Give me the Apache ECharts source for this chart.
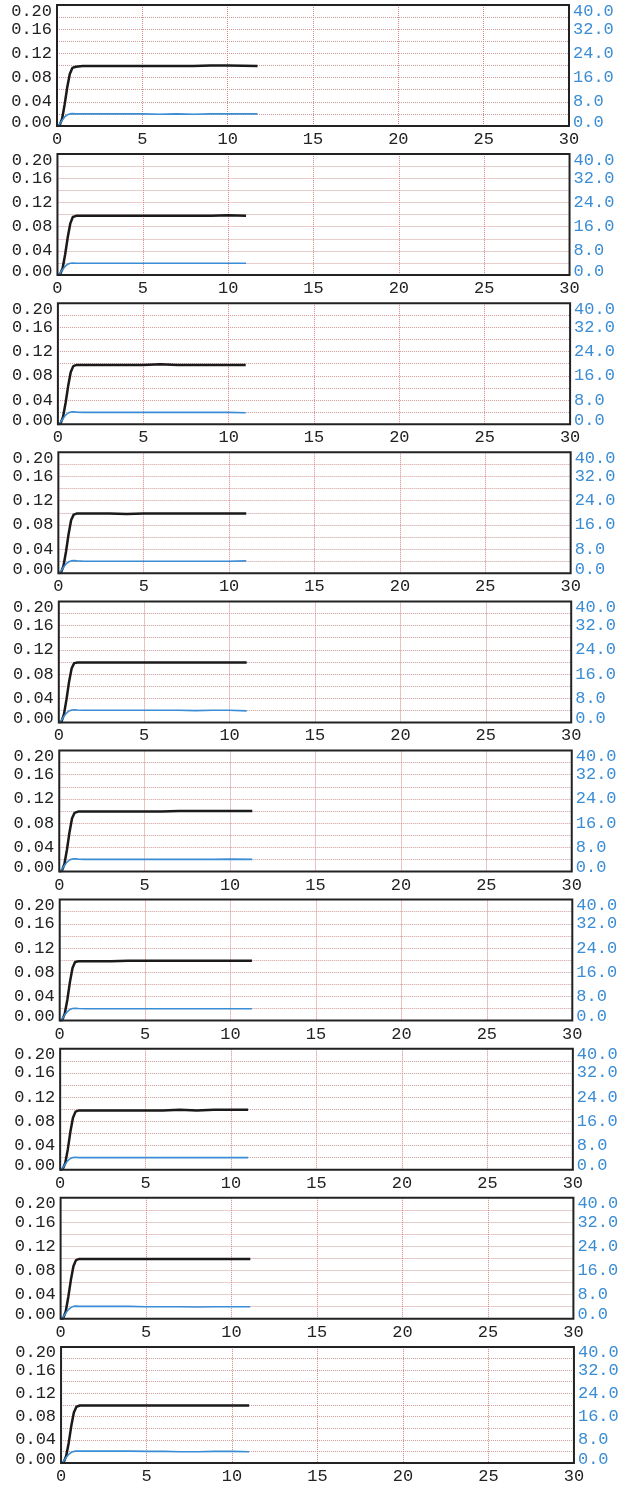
<!DOCTYPE html>
<html>
<head>
<meta charset="utf-8">
<script src="https://cdn.jsdelivr.net/npm/echarts@6/dist/echarts.min.js"></script>
<style>
  html, body { margin: 0; padding: 0; background: #fff; }
  #chart { width: 629px; height: 1485px; }
</style>
</head>
<body>
<div id="chart"></div>
<script>
// sample times (s) shared by all panels; each panel adds its own end time
var timePts = [0, 0.15, 0.3, 0.45, 0.6, 0.75, 0.9, 1.1, 1.5, 2, 3, 4, 5, 6, 7, 8, 9, 10];
var endTimes = [11.75, 11.05, 11.0, 11.0, 11.0, 11.3, 11.25, 11.0, 11.1, 11.0];

// black curve (left axis)
var blackVals = [
  [0, 0.001, 0.012, 0.036, 0.064, 0.086, 0.096, 0.098, 0.099, 0.099, 0.099, 0.099, 0.099, 0.099, 0.099, 0.099, 0.100, 0.100, 0.099],
  [0, 0.001, 0.011, 0.034, 0.062, 0.085, 0.096, 0.098, 0.098, 0.098, 0.098, 0.098, 0.098, 0.098, 0.098, 0.098, 0.098, 0.099, 0.098],
  [0, 0.001, 0.012, 0.035, 0.063, 0.086, 0.096, 0.098, 0.098, 0.098, 0.098, 0.098, 0.098, 0.099, 0.098, 0.098, 0.098, 0.098, 0.098],
  [0, 0.001, 0.012, 0.036, 0.065, 0.088, 0.097, 0.099, 0.099, 0.099, 0.099, 0.098, 0.099, 0.099, 0.099, 0.099, 0.099, 0.099, 0.099],
  [0, 0.001, 0.013, 0.038, 0.067, 0.089, 0.098, 0.099, 0.099, 0.099, 0.099, 0.099, 0.099, 0.099, 0.099, 0.099, 0.099, 0.099, 0.099],
  [0, 0.001, 0.012, 0.036, 0.065, 0.088, 0.097, 0.099, 0.099, 0.099, 0.099, 0.099, 0.099, 0.099, 0.100, 0.100, 0.100, 0.100, 0.100],
  [0, 0.001, 0.012, 0.035, 0.064, 0.087, 0.097, 0.098, 0.098, 0.098, 0.098, 0.099, 0.099, 0.099, 0.099, 0.099, 0.099, 0.099, 0.099],
  [0, 0.001, 0.011, 0.034, 0.063, 0.086, 0.096, 0.098, 0.098, 0.098, 0.098, 0.098, 0.098, 0.098, 0.099, 0.098, 0.099, 0.099, 0.099],
  [0, 0.001, 0.012, 0.036, 0.064, 0.087, 0.097, 0.099, 0.099, 0.099, 0.099, 0.099, 0.099, 0.099, 0.099, 0.099, 0.099, 0.099, 0.099],
  [0, 0.001, 0.012, 0.035, 0.064, 0.087, 0.097, 0.099, 0.099, 0.099, 0.099, 0.099, 0.099, 0.099, 0.099, 0.099, 0.099, 0.099, 0.099]
];

// blue curve (right axis)
var blueVals = [
  [0, 0.6, 1.9, 3.0, 3.7, 4.0, 4.1, 4.0, 4.0, 4.0, 4.0, 4.0, 4.0, 3.9, 4.0, 3.9, 4.0, 4.0, 4.0],
  [0, 0.6, 1.8, 2.9, 3.6, 3.9, 4.0, 3.9, 3.9, 3.9, 3.9, 3.9, 3.9, 3.9, 3.9, 3.9, 3.9, 3.9, 3.9],
  [0, 0.6, 1.9, 3.0, 3.7, 4.0, 4.1, 4.0, 3.9, 3.9, 3.9, 3.9, 3.9, 3.9, 3.9, 3.9, 3.9, 3.9, 3.8],
  [0, 0.7, 2.0, 3.1, 3.8, 4.1, 4.2, 4.1, 4.0, 4.0, 4.0, 4.0, 4.0, 4.0, 4.0, 4.0, 4.0, 4.0, 4.1],
  [0, 0.7, 2.0, 3.1, 3.8, 4.1, 4.2, 4.1, 4.0, 4.0, 4.0, 4.0, 4.0, 4.0, 4.0, 3.9, 4.0, 4.0, 3.8],
  [0, 0.7, 2.0, 3.1, 3.8, 4.1, 4.2, 4.1, 4.0, 4.0, 4.0, 4.0, 4.0, 4.0, 4.0, 4.0, 4.0, 4.1, 4.0],
  [0, 0.6, 1.9, 3.0, 3.7, 4.0, 4.1, 4.0, 3.9, 3.9, 3.9, 3.9, 3.9, 3.9, 3.9, 3.9, 3.9, 3.9, 3.9],
  [0, 0.6, 1.9, 3.0, 3.7, 4.0, 4.1, 4.0, 4.0, 4.0, 4.0, 4.0, 4.0, 4.0, 4.0, 4.0, 4.0, 4.0, 4.0],
  [0, 0.6, 1.9, 3.0, 3.7, 4.1, 4.2, 4.1, 4.1, 4.1, 4.1, 4.1, 4.0, 4.0, 4.0, 3.9, 4.0, 4.0, 4.0],
  [0, 0.6, 1.9, 3.0, 3.7, 4.0, 4.1, 4.1, 4.1, 4.1, 4.1, 4.1, 4.0, 4.0, 3.9, 3.9, 4.0, 4.0, 3.9]
];

// axis ranges / steps
var xMin = 0, xMax = 30, xStep = 5;
var leftMin = 0, leftMax = 0.2, leftStep = 0.04;
var rightMin = 0, rightMax = 40, rightStep = 8;

var FONT = "Liberation Mono";
var TXT = "#222";
var BLUE = "#3a8cd4";
var GRIDCOL = "#cf9a9a";

function pairs(i, vals) {
  var t = timePts.concat([endTimes[i]]);
  return t.map(function (x, k) { return [x, vals[k]]; });
}

// end labels of the y axes sit inside the frame: nudge them with rich padding
function edgeLabels(color, digits, maxV) {
  return {
    formatter: function (v) {
      var s = Number(v).toFixed(digits);
      if (Math.abs(v) < 1e-9) return "{lo|" + s + "}";
      if (Math.abs(v - maxV) < 1e-9) return "{hi|" + s + "}";
      return s;
    },
    rich: {
      lo: { fontFamily: FONT, fontSize: 17, color: color, padding: [0, 0, 8, 0] },
      hi: { fontFamily: FONT, fontSize: 17, color: color, padding: [12, 0, 0, 0] }
    }
  };
}

function buildOption() {
  var grids = [], xAxes = [], yAxes = [], series = [];
  for (var i = 0; i < 10; i++) {
    var panelTop = 5 + i * 149.1;
    var panelLeft = 57 + i * 0.45;
    var panelRight = 629 - (569 + i * 0.55);
    grids.push({
      top: panelTop, height: 121, left: panelLeft, right: panelRight,
      show: true, borderColor: "#222", borderWidth: 2, z: 10
    });
    xAxes.push({
      type: "value", gridIndex: i, min: xMin, max: xMax, interval: xStep,
      axisLine: { show: false }, axisTick: { show: false },
      axisLabel: { color: TXT, fontFamily: FONT, fontSize: 17, margin: 5 },
      splitLine: { show: true, showMinLine: false, showMaxLine: false,
        lineStyle: { color: "#d98585", type: "dotted", width: 1 } }
    });
    var ll = edgeLabels(TXT, 2, leftMax);
    yAxes.push({
      type: "value", gridIndex: i, position: "left",
      min: leftMin, max: leftMax, interval: leftStep,
      axisLine: { show: false }, axisTick: { show: false },
      axisLabel: { color: TXT, fontFamily: FONT, fontSize: 17, margin: 5,
        formatter: ll.formatter, rich: ll.rich },
      splitLine: { show: true, showMinLine: false, showMaxLine: false,
        lineStyle: { color: GRIDCOL, type: "dotted", width: 1 } },
      minorTick: { show: false, splitNumber: 2 },
      minorSplitLine: { show: true, lineStyle: { color: GRIDCOL, type: "dotted", width: 1 } }
    });
    var rl = edgeLabels(BLUE, 1, rightMax);
    yAxes.push({
      type: "value", gridIndex: i, position: "right",
      min: rightMin, max: rightMax, interval: rightStep,
      axisLine: { show: false }, axisTick: { show: false },
      axisLabel: { color: BLUE, fontFamily: FONT, fontSize: 17, margin: 4,
        formatter: rl.formatter, rich: rl.rich },
      splitLine: { show: false }
    });
    series.push({
      type: "line", xAxisIndex: i, yAxisIndex: 2 * i,
      data: pairs(i, blackVals[i]), showSymbol: false,
      lineStyle: { color: "#1a1a1a", width: 2.5 }
    });
    series.push({
      type: "line", xAxisIndex: i, yAxisIndex: 2 * i + 1,
      data: pairs(i, blueVals[i]), showSymbol: false,
      lineStyle: { color: BLUE, width: 1.6 }
    });
  }
  return { backgroundColor: "#fff", animation: false,
    grid: grids, xAxis: xAxes, yAxis: yAxes, series: series };
}

var myChart = echarts.init(document.getElementById("chart"));
myChart.setOption(buildOption());
window.addEventListener("resize", function () { myChart.resize(); });
</script>
</body>
</html>
